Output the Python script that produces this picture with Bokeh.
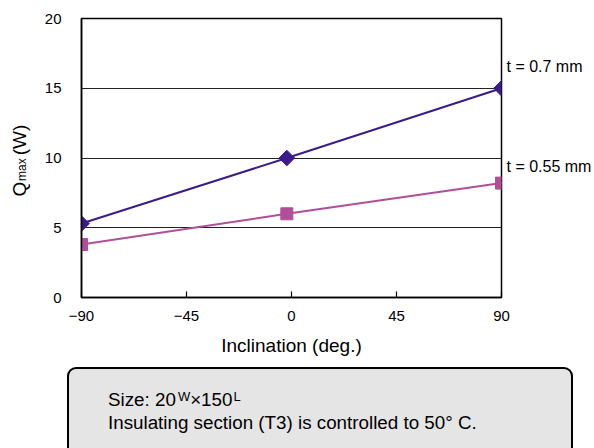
from bokeh.plotting import figure
from bokeh.models import Range1d, FixedTicker, LinearAxis, Div
from bokeh.layouts import column
from bokeh.embed import file_html
from bokeh.resources import INLINE

# ---- data ----
inclination = [-90, -2, 90]
q_t070 = [5.3, 10.0, 15.0]
q_t055 = [3.8, 6.0, 8.2]
series_names = ["t = 0.7 mm", "t = 0.55 mm"]
x_ticks = [-90, -45, 0, 45, 90]
x_tick_labels = ["\u221290", "\u221245", "0", "45", "90"]
y_ticks = [0, 5, 10, 15, 20]
x_title = "Inclination (deg.)"
y_title_main = ["Q", "(W)"]
y_title_sub = "max"
note_line1 = ["Size: 20", "W", "\u00d7150", "L"]
note_line2 = "Insulating section (T3) is controlled to 50\u00b0 C."

FONT = "Liberation Sans"
PURPLE = "#3b1c8a"
MAGENTA = "#b04f98"
NB = "\u00a0"

p = figure(width=594, height=362, x_range=Range1d(-90, 90), y_range=Range1d(0, 20),
           output_backend="svg", toolbar_location=None,
           min_border_left=81, min_border_right=90, min_border_top=18, min_border_bottom=65)
p.background_fill_color = "white"
p.border_fill_color = "white"
p.outline_line_color = "black"
p.outline_line_width = 1.5

# x axis
p.xaxis.ticker = FixedTicker(ticks=x_ticks)
p.xaxis.major_label_overrides = {t: l for t, l in zip(x_ticks, x_tick_labels)}
p.xaxis.major_tick_in = 6
p.xaxis.major_tick_out = 0
p.xaxis.minor_tick_line_color = None
p.xaxis.axis_line_color = "black"
p.xaxis.axis_line_width = 1.5
p.xaxis.major_tick_line_color = "black"
p.xaxis.major_tick_line_width = 1.2
p.xaxis.major_label_text_font = FONT
p.xaxis.major_label_text_font_size = "15px"
p.xaxis.major_label_text_color = "black"
p.xaxis.major_label_standoff = 13
p.xaxis.axis_label = x_title
p.xaxis.axis_label_text_font = FONT
p.xaxis.axis_label_text_font_size = "19px"
p.xaxis.axis_label_text_font_style = "normal"
p.xaxis.axis_label_text_color = "black"
p.xaxis.axis_label_standoff = 11

# y axis (main) with title "Q ... (W)"
p.yaxis.ticker = FixedTicker(ticks=y_ticks)
p.yaxis.major_tick_in = 0
p.yaxis.major_tick_out = 0
p.yaxis.minor_tick_line_color = None
p.yaxis.axis_line_color = "black"
p.yaxis.axis_line_width = 1.5
p.yaxis.major_label_text_font = FONT
p.yaxis.major_label_text_font_size = "15px"
p.yaxis.major_label_text_color = "black"
p.yaxis.major_label_standoff = 20
p.yaxis.axis_label = y_title_main[0] + NB * 5 + y_title_main[1] + NB
p.yaxis.axis_label_text_font = FONT
p.yaxis.axis_label_text_font_size = "19px"
p.yaxis.axis_label_text_font_style = "normal"
p.yaxis.axis_label_text_color = "black"
p.yaxis.axis_label_standoff = 12

# subscript "max" on an outer, otherwise empty axis
sub_ax = LinearAxis(ticker=FixedTicker(ticks=[]), axis_line_color=None,
                    major_tick_line_color=None, minor_tick_line_color=None,
                    major_tick_in=0, major_tick_out=0,
                    axis_label=y_title_sub + NB * 7, axis_label_text_font=FONT,
                    axis_label_text_font_size="12px", axis_label_text_font_style="normal",
                    axis_label_text_color="black", axis_label_standoff=-23)
p.add_layout(sub_ax, "left")

p.xgrid.grid_line_color = None
p.ygrid.ticker = FixedTicker(ticks=[5, 10, 15])
p.ygrid.grid_line_color = "#222222"
p.ygrid.grid_line_width = 1

# series
p.line(inclination, q_t055, line_color=MAGENTA, line_width=2)
p.scatter(inclination, q_t055, marker="square", size=12, fill_color=MAGENTA, line_color=MAGENTA)
p.line(inclination, q_t070, line_color=PURPLE, line_width=2)
p.scatter(inclination, q_t070, marker="square", size=11, angle=0.785398,
          fill_color=PURPLE, line_color=PURPLE)

# series labels on a right-hand axis next to the last points
label_pos = [q_t070[-1] + 1.55, q_t055[-1] + 1.2]
lab_ax = LinearAxis(ticker=FixedTicker(ticks=label_pos),
                    major_label_overrides={v: s for v, s in zip(label_pos, series_names)},
                    axis_line_color=None, major_tick_line_color=None, minor_tick_line_color=None,
                    major_tick_in=0, major_tick_out=0, major_label_standoff=5,
                    major_label_text_font=FONT, major_label_text_font_size="16px",
                    major_label_text_color="black")
p.add_layout(lab_ax, "right")

# note box
html = (
    '<div style="position:relative;width:594px;height:86px;overflow:hidden;margin:0;padding:0;">'
    '<div style="position:absolute;left:67px;top:5px;width:506px;height:120px;'
    'background:#e5e5e5;border:2px solid #000;border-radius:9px;box-sizing:border-box;"></div>'
    '<div style="position:absolute;left:108px;top:26px;white-space:nowrap;'
    f"font-family:'{FONT}';font-size:18.8px;line-height:23px;color:#000;\">"
    f'{note_line1[0]}<span style="font-size:13px;vertical-align:5px;line-height:0;margin-left:2px;">{note_line1[1]}</span>'
    f'{note_line1[2]}<span style="font-size:13px;vertical-align:5px;line-height:0;margin-left:1px;">{note_line1[3]}</span>'
    '</div>'
    '<div style="position:absolute;left:108px;top:49px;white-space:nowrap;'
    f"font-family:'{FONT}';font-size:18.8px;line-height:23px;color:#000;\">{note_line2}</div>"
    '</div>'
)
note = Div(text=html, width=594, height=86, styles={"margin": "0", "padding": "0"})

layout = column(p, note, spacing=0)
open("out.html", "w").write(file_html(layout, INLINE))
